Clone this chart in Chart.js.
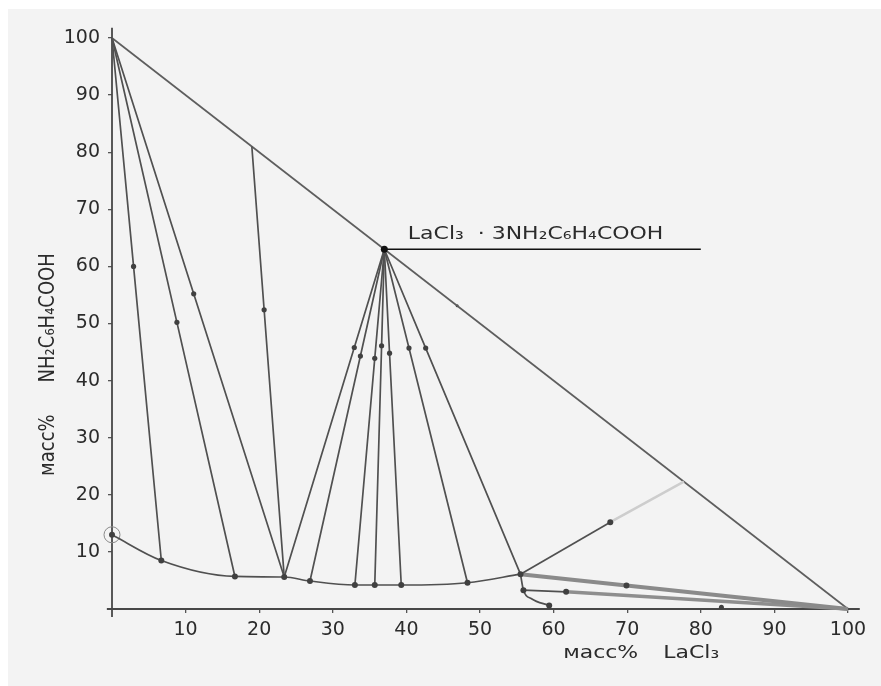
<!DOCTYPE html>
<html>
<head>
<meta charset="utf-8">
<script src="https://cdn.jsdelivr.net/npm/chart.js@4.4.1/dist/chart.umd.min.js"></script>
<style>
  html, body { margin: 0; padding: 0; background: #ffffff; }
  #wrap { position: absolute; left: 8px; top: 9px; width: 873px; height: 677px; background: #f3f3f3; }
</style>
</head>
<body>
<div id="wrap"><canvas id="phase-chart"></canvas></div>
<script>
// axis ticks (масс% LaCl3 on x, масс% NH2C6H4COOH on y)
const xTicks = [10, 20, 30, 40, 50, 60, 70, 80, 90, 100];
const yTicks = [10, 20, 30, 40, 50, 60, 70, 80, 90, 100];

// solubility curve points
const curveLaCl3 = [0, 6.7, 16.7, 23.4, 26.9, 33.0, 35.7, 39.3, 48.3, 55.5];
const curveAcid = [13.0, 8.5, 5.7, 5.6, 4.9, 4.2, 4.2, 4.2, 4.6, 6.1];

// branch dropping to the LaCl3 axis
const branchLaCl3 = [55.5, 55.9, 57.0, 59.4];
const branchAcid = [6.1, 3.3, 1.8, 0.6];
const branchDots = [0, 3, 0, 3];

// tie lines: start, marked point, end
const tieFromX = [0, 0, 0, 19, 37, 37, 37, 37, 37, 37, 37];
const tieFromY = [100, 100, 100, 81, 63, 63, 63, 63, 63, 63, 63];
const tieDotX = [2.93, 8.82, 11.1, 20.67, 32.92, 33.75, 35.7, 36.63, 37.71, 40.35, 42.62];
const tieDotY = [60, 50.2, 55.2, 52.4, 45.8, 44.3, 43.9, 46.1, 44.8, 45.7, 45.7];
const tieToX = [6.7, 16.7, 23.4, 23.4, 23.4, 26.9, 33.0, 35.7, 39.3, 48.3, 55.5];
const tieToY = [8.5, 5.7, 5.6, 5.6, 5.6, 4.9, 4.2, 4.2, 4.2, 4.6, 6.1];

// right part of the diagram
const riseX = [55.5, 67.7];
const riseY = [6.1, 15.2];
const fadeX = [67.7, 77.7];
const fadeY = [15.2, 22.3];
const upperX = [55.5, 69.9, 100];
const upperY = [6.1, 4.1, 0];
const lowerX = [55.9, 61.7];
const lowerY = [3.3, 3.0];
const lowerThickX = [61.7, 100];
const lowerThickY = [3.0, 0];

// triangle side, compound, marks
const hypX = [0, 100];
const hypY = [100, 0];
const compoundX = [37];
const compoundY = [63];
const labelLineX = [37, 80];
const labelLineY = [63, 63];
const extraDotX = [82.8, 46.9];
const extraDotY = [0.3, 53.1];
const ringX = [0];
const ringY = [13];

// axis lines (running a bit past the ends)
const yAxisX = [0, 0];
const yAxisY = [-1.4, 101.8];
const xAxisX = [-0.7, 101.6];
const xAxisY = [0, 0];

const compoundLabel = 'LaCl\u2083  \u00B7 3NH\u2082C\u2086H\u2084COOH';
const yTitleMain = 'NH\u2082C\u2086H\u2084COOH';
const massLabel = 'масс%';
const xTitleMain = 'LaCl\u2083';

const pts = (xs, ys) => xs.map((x, i) => ({ x: x, y: ys[i] }));

const lineColor = '#505050';
const textColor = '#2b2b2b';

const datasets = [];

function addLine(xs, ys, extra) {
  datasets.push(Object.assign({
    data: pts(xs, ys),
    showLine: true,
    borderColor: lineColor,
    borderWidth: 1.7,
    pointRadius: 0,
    pointBackgroundColor: '#404040',
    pointBorderWidth: 0,
    clip: false,
  }, extra || {}));
}

addLine(compoundX, compoundY, { pointRadius: 3.5, pointBackgroundColor: '#111' });
addLine(labelLineX, labelLineY, { borderColor: '#111', borderWidth: 1.6 });
addLine(curveLaCl3, curveAcid, { pointRadius: 3, cubicInterpolationMode: 'monotone' });
addLine(branchLaCl3, branchAcid, { pointRadius: branchDots, cubicInterpolationMode: 'monotone' });
for (let i = 0; i < tieFromX.length; i++) {
  addLine(
    [tieFromX[i], tieDotX[i], tieToX[i]],
    [tieFromY[i], tieDotY[i], tieToY[i]],
    { pointRadius: [0, 2.6, 0] }
  );
}
addLine(riseX, riseY, { pointRadius: [0, 3] });
addLine(fadeX, fadeY, { borderColor: '#cdcdcd', borderWidth: 2.5 });
addLine(upperX, upperY, { borderColor: '#8a8a8a', borderWidth: 4, pointRadius: [0, 3, 0] });
addLine(lowerX, lowerY, { pointRadius: [0, 3] });
addLine(lowerThickX, lowerThickY, { borderColor: '#8e8e8e', borderWidth: 3.5 });
addLine(hypX, hypY, { borderColor: '#5e5e5e' });
addLine(extraDotX, extraDotY, { showLine: false, pointRadius: [2.5, 1.5] });
addLine(ringX, ringY, {
  showLine: false, pointRadius: 8, pointBackgroundColor: 'rgba(0,0,0,0)',
  pointBorderColor: '#8a8a8a', pointBorderWidth: 1
});
addLine(yAxisX, yAxisY, { borderColor: '#474747', borderWidth: 1.8 });
addLine(xAxisX, xAxisY, { borderColor: '#474747', borderWidth: 1.8 });

function stretchText(ctx, text, x, y, angle) {
  ctx.save();
  ctx.translate(x, y);
  ctx.scale(1.22, 1);
  if (angle) ctx.rotate(angle);
  ctx.fillText(text, 0, 0);
  ctx.restore();
}

const phaseText = {
  id: 'phaseText',
  afterDatasetsDraw(chart) {
    const { ctx, scales: { x, y } } = chart;
    ctx.save();
    ctx.fillStyle = textColor;
    ctx.font = '18px "DejaVu Sans"';
    ctx.textBaseline = 'alphabetic';
    ctx.textAlign = 'left';
    // compound label above its line
    stretchText(ctx, compoundLabel, x.getPixelForValue(40.2), y.getPixelForValue(63) - 10);
    // x axis title
    const xTitleY = y.getPixelForValue(0) + 49;
    stretchText(ctx, massLabel, x.getPixelForValue(61.3), xTitleY);
    stretchText(ctx, xTitleMain, x.getPixelForValue(74.9), xTitleY);
    // y axis title, rotated
    ctx.textAlign = 'center';
    ctx.textBaseline = 'middle';
    const yTitleX = x.getPixelForValue(0) - 64;
    stretchText(ctx, yTitleMain, yTitleX, y.getPixelForValue(51), -Math.PI / 2);
    stretchText(ctx, massLabel, yTitleX, y.getPixelForValue(28.7), -Math.PI / 2);
    ctx.restore();
  }
};

const tickFont = { family: 'DejaVu Sans', size: 19 };

new Chart(document.getElementById('phase-chart').getContext('2d'), {
  type: 'scatter',
  data: { datasets: datasets },
  options: {
    responsive: true,
    maintainAspectRatio: false,
    animation: false,
    events: [],
    layout: { padding: { left: 44, right: 33, top: 29, bottom: 47 } },
    plugins: {
      legend: { display: false },
      tooltip: { enabled: false },
    },
    scales: {
      x: {
        type: 'linear',
        min: 0,
        max: 100,
        afterBuildTicks: (s) => { s.ticks = xTicks.map((v) => ({ value: v })); },
        afterFit: (s) => { s.height = 30; },
        border: { display: false },
        grid: { drawOnChartArea: false, drawTicks: true, tickLength: 4, color: '#555', lineWidth: 1.3 },
        ticks: { font: tickFont, color: textColor, padding: 6, maxRotation: 0, autoSkip: false },
      },
      y: {
        type: 'linear',
        min: 0,
        max: 100,
        afterBuildTicks: (s) => { s.ticks = yTicks.map((v) => ({ value: v })); },
        afterFit: (s) => { s.width = 60; },
        border: { display: false },
        grid: { drawOnChartArea: false, drawTicks: true, tickLength: 4, color: '#555', lineWidth: 1.3 },
        ticks: { font: tickFont, color: textColor, padding: 8, autoSkip: false },
      },
    },
  },
  plugins: [phaseText],
});
</script>
</body>
</html>
